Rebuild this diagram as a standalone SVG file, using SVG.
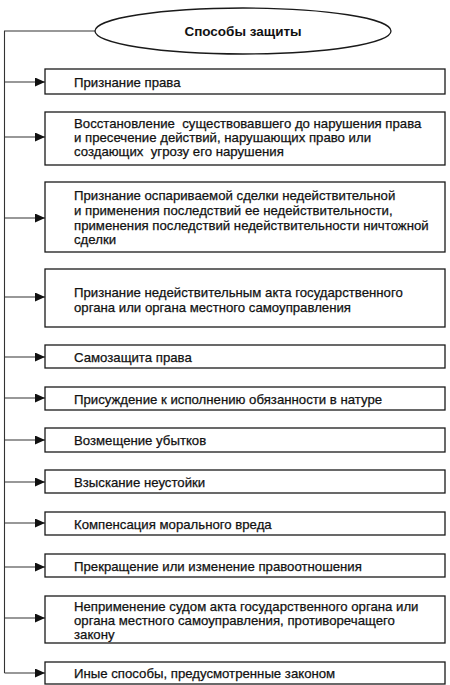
<svg xmlns="http://www.w3.org/2000/svg" width="450" height="685" viewBox="0 0 450 685">
<style>
.box{fill:#fff;stroke:#1a1a1a;stroke-width:1.3}
.t{font-family:"Liberation Sans",Arial,sans-serif;font-size:13.2px;fill:#111;stroke:#111;stroke-width:0.25}
.title{font-family:"Liberation Sans",Arial,sans-serif;font-size:13.5px;font-weight:bold;fill:#111}
.c{fill:none;stroke:#333;stroke-width:1.1}
</style>
<defs>
<marker id="ah" markerWidth="10" markerHeight="9" refX="10" refY="4.5" orient="auto" markerUnits="userSpaceOnUse">
<path d="M0,0 L10,4.5 L0,9 Z" fill="#111"/>
</marker>
</defs>
<rect width="450" height="685" fill="#fff"/>
<g id="connectors">
<path class="c" d="M95,31 H4.5 V673"/>
<line class="c" x1="4.5" y1="82" x2="45" y2="82" marker-end="url(#ah)"/>
<line class="c" x1="4.5" y1="137" x2="45" y2="137" marker-end="url(#ah)"/>
<line class="c" x1="4.5" y1="218" x2="45" y2="218" marker-end="url(#ah)"/>
<line class="c" x1="4.5" y1="297" x2="45" y2="297" marker-end="url(#ah)"/>
<line class="c" x1="4.5" y1="357" x2="45" y2="357" marker-end="url(#ah)"/>
<line class="c" x1="4.5" y1="398" x2="45" y2="398" marker-end="url(#ah)"/>
<line class="c" x1="4.5" y1="440" x2="45" y2="440" marker-end="url(#ah)"/>
<line class="c" x1="4.5" y1="482" x2="45" y2="482" marker-end="url(#ah)"/>
<line class="c" x1="4.5" y1="523" x2="45" y2="523" marker-end="url(#ah)"/>
<line class="c" x1="4.5" y1="567" x2="45" y2="567" marker-end="url(#ah)"/>
<line class="c" x1="4.5" y1="618" x2="45" y2="618" marker-end="url(#ah)"/>
<line class="c" x1="4.5" y1="673" x2="45" y2="673" marker-end="url(#ah)"/>
</g>
<g id="root">
<ellipse cx="243" cy="31" rx="148" ry="23" fill="#fff" stroke="#1a1a1a" stroke-width="1.3"/>
<text class="title" x="243" y="35.5" text-anchor="middle">Способы защиты</text>
</g>
<g id="n1">
<rect class="box" x="45" y="69" width="400" height="25"/>
<text class="t" x="74" y="87">Признание права</text>
</g>
<g id="n2">
<rect class="box" x="45" y="112" width="400" height="53"/>
<text class="t" x="74" y="128" xml:space="preserve">Восстановление  существовавшего до нарушения права</text>
<text class="t" x="74" y="142">и пресечение действий, нарушающих право или</text>
<text class="t" x="74" y="155.5" xml:space="preserve">создающих  угрозу его нарушения</text>
</g>
<g id="n3">
<rect class="box" x="45" y="182" width="400" height="70"/>
<text class="t" x="74" y="199.5">Признание оспариваемой сделки недействительной</text>
<text class="t" x="74" y="214.5">и применения последствий ее недействительности,</text>
<text class="t" x="74" y="229.5">применения последствий недействительности ничтожной</text>
<text class="t" x="74" y="243.5">сделки</text>
</g>
<g id="n4">
<rect class="box" x="45" y="269" width="400" height="58"/>
<text class="t" x="74" y="296.5">Признание недействительным акта государственного</text>
<text class="t" x="74" y="311.5">органа или органа местного самоуправления</text>
</g>
<g id="n5">
<rect class="box" x="45" y="345" width="400" height="23"/>
<text class="t" x="74" y="361.5">Самозащита права</text>
</g>
<g id="n6">
<rect class="box" x="45" y="387" width="400" height="23"/>
<text class="t" x="74" y="403.5">Присуждение к исполнению обязанности в натуре</text>
</g>
<g id="n7">
<rect class="box" x="45" y="428" width="400" height="24"/>
<text class="t" x="74" y="444.5">Возмещение убытков</text>
</g>
<g id="n8">
<rect class="box" x="45" y="470" width="400" height="23"/>
<text class="t" x="74" y="486.5">Взыскание неустойки</text>
</g>
<g id="n9">
<rect class="box" x="45" y="512" width="400" height="23"/>
<text class="t" x="74" y="528.5">Компенсация морального вреда</text>
</g>
<g id="n10">
<rect class="box" x="45" y="554" width="400" height="23"/>
<text class="t" x="74" y="570.5">Прекращение или изменение правоотношения</text>
</g>
<g id="n11">
<rect class="box" x="45" y="596" width="400" height="47"/>
<text class="t" x="74" y="610.5">Неприменение судом акта государственного органа или</text>
<text class="t" x="74" y="624.5">органа местного самоуправления, противоречащего</text>
<text class="t" x="74" y="638.5">закону</text>
</g>
<g id="n12">
<rect class="box" x="45" y="662" width="400" height="22"/>
<text class="t" x="74" y="677.5">Иные способы, предусмотренные законом</text>
</g>
</svg>
